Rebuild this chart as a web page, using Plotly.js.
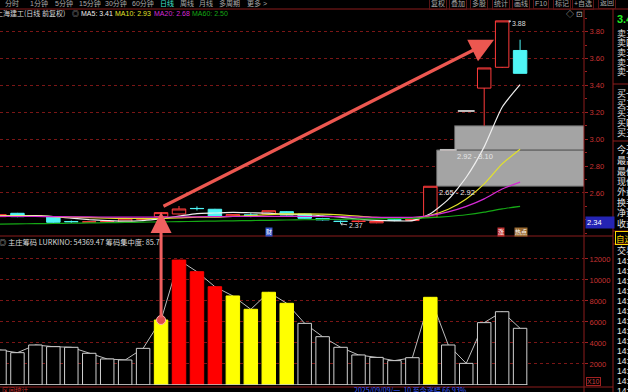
<!DOCTYPE html>
<html><head><meta charset="utf-8">
<script src="https://cdn.plot.ly/plotly-3.0.1.min.js"></script>
<style>html,body{margin:0;padding:0;background:#000;overflow:hidden}#chart{width:628px;height:392px}</style>
</head><body><div id="chart"></div>
<script>
// ---------------- data ----------------
const days = ['T-29','T-28','T-27','T-26','T-25','T-24','T-23','T-22','T-21','T-20',
              'T-19','T-18','T-17','T-16','T-15','T-14','T-13','T-12','T-11','T-10',
              'T-9','T-8','T-7','T-6','T-5','T-4','T-3','T-2','T-1','T0'];
const openP  = [2.424,2.449,2.430,2.424,2.388,2.383,2.385,2.384,2.404,2.424,2.444,2.485,2.479,2.429,2.436,2.444,2.461,2.444,2.410,2.390,2.388,2.378,2.400,2.395,2.420,2.920,3.210,3.380,3.535,3.660];
const highP  = [2.445,2.452,2.436,2.426,2.395,2.390,2.392,2.410,2.416,2.458,2.503,2.500,2.482,2.442,2.450,2.470,2.465,2.447,2.415,2.395,2.395,2.392,2.405,2.410,2.650,2.920,3.210,3.530,3.880,3.740];
const lowP   = [2.418,2.420,2.426,2.378,2.378,2.378,2.380,2.380,2.400,2.420,2.440,2.470,2.420,2.425,2.420,2.440,2.432,2.410,2.395,2.370,2.380,2.375,2.390,2.390,2.415,2.920,3.210,3.100,3.530,3.490];
const closeP = [2.439,2.424,2.432,2.382,2.386,2.385,2.388,2.407,2.410,2.454,2.481,2.484,2.424,2.439,2.435,2.468,2.436,2.412,2.400,2.388,2.390,2.388,2.398,2.405,2.650,2.920,3.210,3.530,3.880,3.490];
const ma5  = [2.430,2.431,2.432,2.425,2.413,2.402,2.395,2.390,2.395,2.409,2.428,2.447,2.451,2.456,2.453,2.450,2.440,2.438,2.430,2.421,2.405,2.396,2.393,2.394,2.446,2.552,2.717,2.943,3.238,3.406];
const ma10 = [2.428,2.428,2.427,2.424,2.420,2.416,2.413,2.411,2.410,2.411,2.415,2.421,2.420,2.426,2.431,2.439,2.444,2.444,2.443,2.437,2.428,2.418,2.415,2.412,2.434,2.479,2.556,2.668,2.816,2.925];
const ma20 = [2.425,2.425,2.425,2.424,2.423,2.422,2.421,2.420,2.420,2.421,2.422,2.423,2.424,2.425,2.425,2.426,2.426,2.425,2.425,2.424,2.421,2.419,2.418,2.419,2.432,2.459,2.500,2.556,2.630,2.681];
const ma60 = [2.368,2.370,2.372,2.373,2.375,2.377,2.379,2.381,2.383,2.385,2.387,2.389,2.391,2.393,2.395,2.397,2.399,2.401,2.403,2.404,2.406,2.408,2.410,2.411,2.416,2.425,2.438,2.457,2.482,2.500];
const chipValue = [3330,3080,3810,3650,3590,3020,2480,2380,3490,6190,11900,10790,9360,8480,7210,8830,7780,5870,4600,3590,2860,2630,2320,2600,8350,3810,2060,5940,6980,5400];
const chipHotDays  = [10,11,12];            // red bars
const chipWarmDays = [9,13,14,15,16,24];    // yellow bars
const flatDays = [25,26];                   // one-price limit-up days (drawn grey)
const gapFromDay = [24,25];
const gapLow  = [2.65,2.92];
const gapHigh = [2.92,3.10];
const priceTicks = [2.6,2.8,3.0,3.2,3.4,3.6,3.8];
const priceTickText = ['2.60','2.80','3.00','3.20','3.40','3.60','3.80'];
const chipTicks = [2000,4000,6000,8000,10000,12000];
const chipTickText = ['2000','4000','6000','8000','10000','12000'];
const maNames = ['MA5','MA10','MA20','MA60'];
const maLast  = ['3.41','2.93','2.68','2.50'];
const refPrice = 2.34;
const lowMarkDay = 19;   // 2.37
const highMarkDay = 28;  // 3.88
const stockTitle = '上海建工(日线 前复权)';
const chipTitle = '主庄筹码 LURKINO: 54369.47 筹码集中度: 85.7';
const toolbarLeft = ['分时','1分钟','5分钟','15分钟','30分钟','60分钟','日线','周线','月线','多周期','更多 >'];
const toolbarRight = ['复权','叠加','多股','统计','画线','F10','标记','+自选','返回'];
const quoteLabels = ['卖五','卖四','卖三','卖二','卖一','买一','买二','买三','买四','买五','今开','最高','最低','现价','外盘','换手','净资','收益'];
const tradeTimes = ['14:56','14:56','14:56','14:56','14:56','14:56','14:56','14:57','14:57','14:57','14:57','14:57','14:57','14:57'];

// ---------------- styling / layout ----------------
const W=628,H=392,L=0,R=44,T=10,B=7;
const plotW=W-L-R, plotH=H-T-B;
const px = x => (x-L)/plotW;
const py = y => (H-B-y)/plotH;
const FONT = 'Liberation Sans, Noto Sans CJK SC, sans-serif';
const CJK = 'Noto Sans CJK SC, sans-serif';
const RED_LINE = '#8b1c1c';
const maColors = ['#eeeeee','#e2e22a','#d52ad5','#15a815'];

function label(x, y, text, size, color, extra) {
  return Object.assign({xref:'paper', yref:'paper', x:px(x), y:py(y), text:text, showarrow:false,
    xanchor:'left', yanchor:'middle', font:{family:FONT, size:size, color:color}}, extra||{});
}

const traces = [];
traces.push({type:'candlestick', x:days, open:openP, high:highP, low:lowP, close:closeP,
  xaxis:'x', yaxis:'y', whiskerwidth:0, hoverinfo:'skip',
  increasing:{line:{color:'#ff3b3b', width:1}, fillcolor:'#000000'},
  decreasing:{line:{color:'#4ff5f5', width:1}, fillcolor:'#4ff5f5'}});
// one-price days overdrawn as grey dashes
traces.push({type:'scatter', mode:'markers', x:flatDays.map(i=>days[i]), y:flatDays.map(i=>closeP[i]),
  xaxis:'x', yaxis:'y', marker:{symbol:'line-ew', size:12, line:{color:'#bdbdbd', width:2}}, hoverinfo:'skip'});
[ma5, ma10, ma20, ma60].forEach((m,k)=>{
  traces.push({type:'scatter', mode:'lines', x:days, y:m, xaxis:'x', yaxis:'y',
    line:{color:maColors[k], width:1.2, shape:'spline', smoothing:0.6}, hoverinfo:'skip'});
});
traces.push({type:'scatter', mode:'lines', x:days, y:chipValue, xaxis:'x', yaxis:'y2',
  line:{color:'#bdbdbd', width:1}, hoverinfo:'skip', zorder:0});
const barFill = days.map((d,i)=> chipHotDays.includes(i) ? '#ff0000' : (chipWarmDays.includes(i) ? '#ffff00' : '#000000'));
const barLine = days.map((d,i)=> chipHotDays.includes(i) ? '#ff0000' : (chipWarmDays.includes(i) ? '#ffff00' : '#d0d0d0'));
traces.push({type:'bar', x:days, y:chipValue, xaxis:'x', yaxis:'y2', width:0.75,
  marker:{color:barFill, line:{color:barLine, width:1}}, hoverinfo:'skip', zorder:1});
traces.push({type:'scatter', mode:'markers', x:[days[9]], y:[chipValue[9]], xaxis:'x', yaxis:'y2',
  marker:{size:9, color:'#e24a4a', line:{color:'#ffb4b4', width:1}}, hoverinfo:'skip', zorder:2});

const shapes = [];
gapFromDay.forEach((d,k)=>{
  shapes.push({type:'rect', xref:'x', yref:'y', x0:d+0.35, x1:40, y0:gapLow[k], y1:gapHigh[k],
    fillcolor:'#a4a4a4', line:{color:'#5a5a5a', width:1}, layer:'between'});
});
shapes.push({type:'line', xref:'x', yref:'y2', x0:-1, x1:29.4, y0:0, y1:0, line:{color:'#c8c8c8', width:1.5}});
// frame lines
const frame = (x0,y0,x1,y1)=>({type:'line', xref:'paper', yref:'paper', x0:px(x0), y0:py(y0), x1:px(x1), y1:py(y1), line:{color:RED_LINE, width:1}});
shapes.push(frame(0,9,628,9));
shapes.push(frame(584,9,584,392));
shapes.push(frame(613,9,613,392));
shapes.push(frame(0,236,613,236));
shapes.push(frame(0,387,613,387));
shapes.push(frame(613,84,628,84));
shapes.push(frame(613,141,628,141));
shapes.push(frame(613,231,628,231));
shapes.push(frame(613,244,628,244));

const ann = [];
// toolbar
const tlX = [3,28,53,77,103,130,158,178,197,217,245];
toolbarLeft.forEach((t,i)=> ann.push(label(tlX[i], 3.5, t, 7, t==='日线' ? '#3fe0d0' : '#a8a8a8')));
const trX = [429,449,470,492,512,533,553,572,598];
toolbarRight.forEach((t,i)=> ann.push(label(trX[i], 3.5, t, 7, '#a8a8a8', {bordercolor:'#5a1414', borderwidth:1, borderpad:1})));
// legend line
ann.push(label(-6.5, 13.5, stockTitle, 7, '#d8d8d8', {font:{family:CJK, size:7, color:'#d8d8d8'}}));
ann.push(label(70, 13.5, '◎', 7, '#bbbbbb'));
const maX = [79,113,152,190];
maNames.forEach((n,k)=> ann.push(label(maX[k], 13.5, n+': '+maLast[k], 7, maColors[k])));
ann.push(label(564, 14, '◇ ⊡', 8, '#bbbbbb'));
// lower header
ann.push(label(-3, 242, '◎ ' + chipTitle, 7.3, '#d8d8d8', {font:{family:CJK, size:7.3, color:'#d8d8d8'}}));
// gap labels
gapFromDay.forEach((d,k)=> ann.push({xref:'x', yref:'y', x:d+0.35, y:gapLow[k], text:gapLow[k].toFixed(2)+' - '+gapHigh[k].toFixed(2),
  showarrow:false, xanchor:'left', yanchor:'top', font:{family:FONT, size:7.5, color:'#e6e6e6'}}));
// high / low marks
ann.push({xref:'x', yref:'y', x:highMarkDay+0.35, y:highP[highMarkDay], text:highP[highMarkDay].toFixed(2), showarrow:true,
  ax:11, ay:3, arrowhead:1, arrowsize:0.6, arrowwidth:1, arrowcolor:'#bbbbbb', font:{family:FONT, size:7, color:'#dddddd'}});
ann.push({xref:'x', yref:'y', x:lowMarkDay, y:lowP[lowMarkDay], text:lowP[lowMarkDay].toFixed(2), showarrow:true,
  ax:15, ay:2, arrowhead:1, arrowsize:0.6, arrowwidth:1, arrowcolor:'#bbbbbb', font:{family:FONT, size:7, color:'#dddddd'}});
// arrows
ann.push({xref:'x', yref:'y', x:27.55, y:3.74, axref:'x', ayref:'y', ax:9.05, ay:2.496, text:'', showarrow:true,
  arrowhead:2, arrowsize:1.5, arrowwidth:3.2, arrowcolor:'#ec5750'});
ann.push({xref:'x', yref:'y', x:9, y:highP[9], ax:0, ay:107, text:'', showarrow:true,
  arrowhead:2, arrowsize:1.4, arrowwidth:3, arrowcolor:'#f06060'});
// axis side boxes
ann.push({xref:'paper', yref:'y', x:px(585), y:refPrice, yshift:5, text:refPrice.toFixed(2), showarrow:false, xanchor:'left',
  bgcolor:'#2424b4', width:26, align:'left', font:{family:FONT, size:7.5, color:'#ffffff'}});
ann.push(label(586, 381, 'X10', 7, '#c84040', {bordercolor:'#a02020', borderwidth:1, borderpad:0}));
// small tags
ann.push(label(265, 231.5, '财', 6, '#ffffff', {bgcolor:'#3050c8', borderpad:0}));
ann.push(label(497, 231.5, '涨', 6, '#ffffff', {bgcolor:'#c03030', borderpad:0}));
ann.push(label(514, 231.5, '热点', 6, '#ffffff', {bgcolor:'#9a6a30', borderpad:0}));
// right info panel
ann.push(label(615, 19, '3.41', 11, '#22ee22', {font:{family:FONT, size:11, color:'#22ee22', weight:'bold'}}));
const qY = [33,43,52.5,62,71.5,94,103.5,113,122.5,132,150,160.5,171,181.5,192,202,212.5,223];
quoteLabels.forEach((t,i)=> ann.push(label(615, qY[i], t, 9, '#e0e0e0', {font:{family:CJK, size:9, color:'#e0e0e0'}})));
ann.push(label(615, 237.5, '自选', 8.5, '#ffd700', {font:{family:CJK, size:8.5, color:'#ffd700'}, bordercolor:'#ffd700', borderwidth:1, borderpad:0}));
ann.push(label(615, 250, '交易', 9, '#e0e0e0', {font:{family:CJK, size:9, color:'#e0e0e0'}}));
tradeTimes.forEach((t,i)=> ann.push(label(615, 261+i*10, t, 8.5, '#e8e8e8')));
// bottom status
ann.push(label(352, 389.5, '2025/09/09/一  10 至今涨幅 66.93%', 7, '#3a5cff', {font:{family:CJK, size:7, color:'#3a5cff'}}));
ann.push(label(0, 389.5, '区间统计', 6.5, '#c03030', {font:{family:CJK, size:6.5, color:'#c03030'}}));

const layout = {
  width:W, height:H, margin:{l:L, r:R, t:T, b:B, pad:0},
  paper_bgcolor:'#000000', plot_bgcolor:'#000000', showlegend:false,
  boxgap:0.25, boxgroupgap:0, barmode:'overlay',
  xaxis:{type:'category', range:[0.028, 32.56], anchor:'y2', showticklabels:false, showgrid:false,
    zeroline:false, showline:false, ticks:'', rangeslider:{visible:false}, fixedrange:true},
  yaxis:{domain:[0.4,1], range:[2.2875,3.961], side:'right', anchor:'x', tickvals:priceTicks,
    ticktext:priceTickText, ticks:'outside', ticklen:3, tickcolor:'#a02020',
    tickfont:{family:FONT, size:7.5, color:'#c83232'}, showgrid:true, gridcolor:'#7a1616', griddash:'dot',
    zeroline:false, showline:false, fixedrange:true,
    minor:{ticks:'outside', ticklen:2, tickcolor:'#a02020', dtick:0.1, tick0:2.6, showgrid:false}},
  yaxis2:{domain:[0,0.3947], range:[0,14095], side:'right', anchor:'x', tickvals:chipTicks, ticktext:chipTickText,
    ticks:'outside', ticklen:3, tickcolor:'#a02020',
    tickfont:{family:FONT, size:7.5, color:'#c83232'}, showgrid:true, gridcolor:'#7a1616', griddash:'dot',
    zeroline:false, showline:false, fixedrange:true},
  shapes:shapes, annotations:ann
};
Plotly.newPlot('chart', traces, layout, {displayModeBar:false, staticPlot:true});
</script></body></html>
